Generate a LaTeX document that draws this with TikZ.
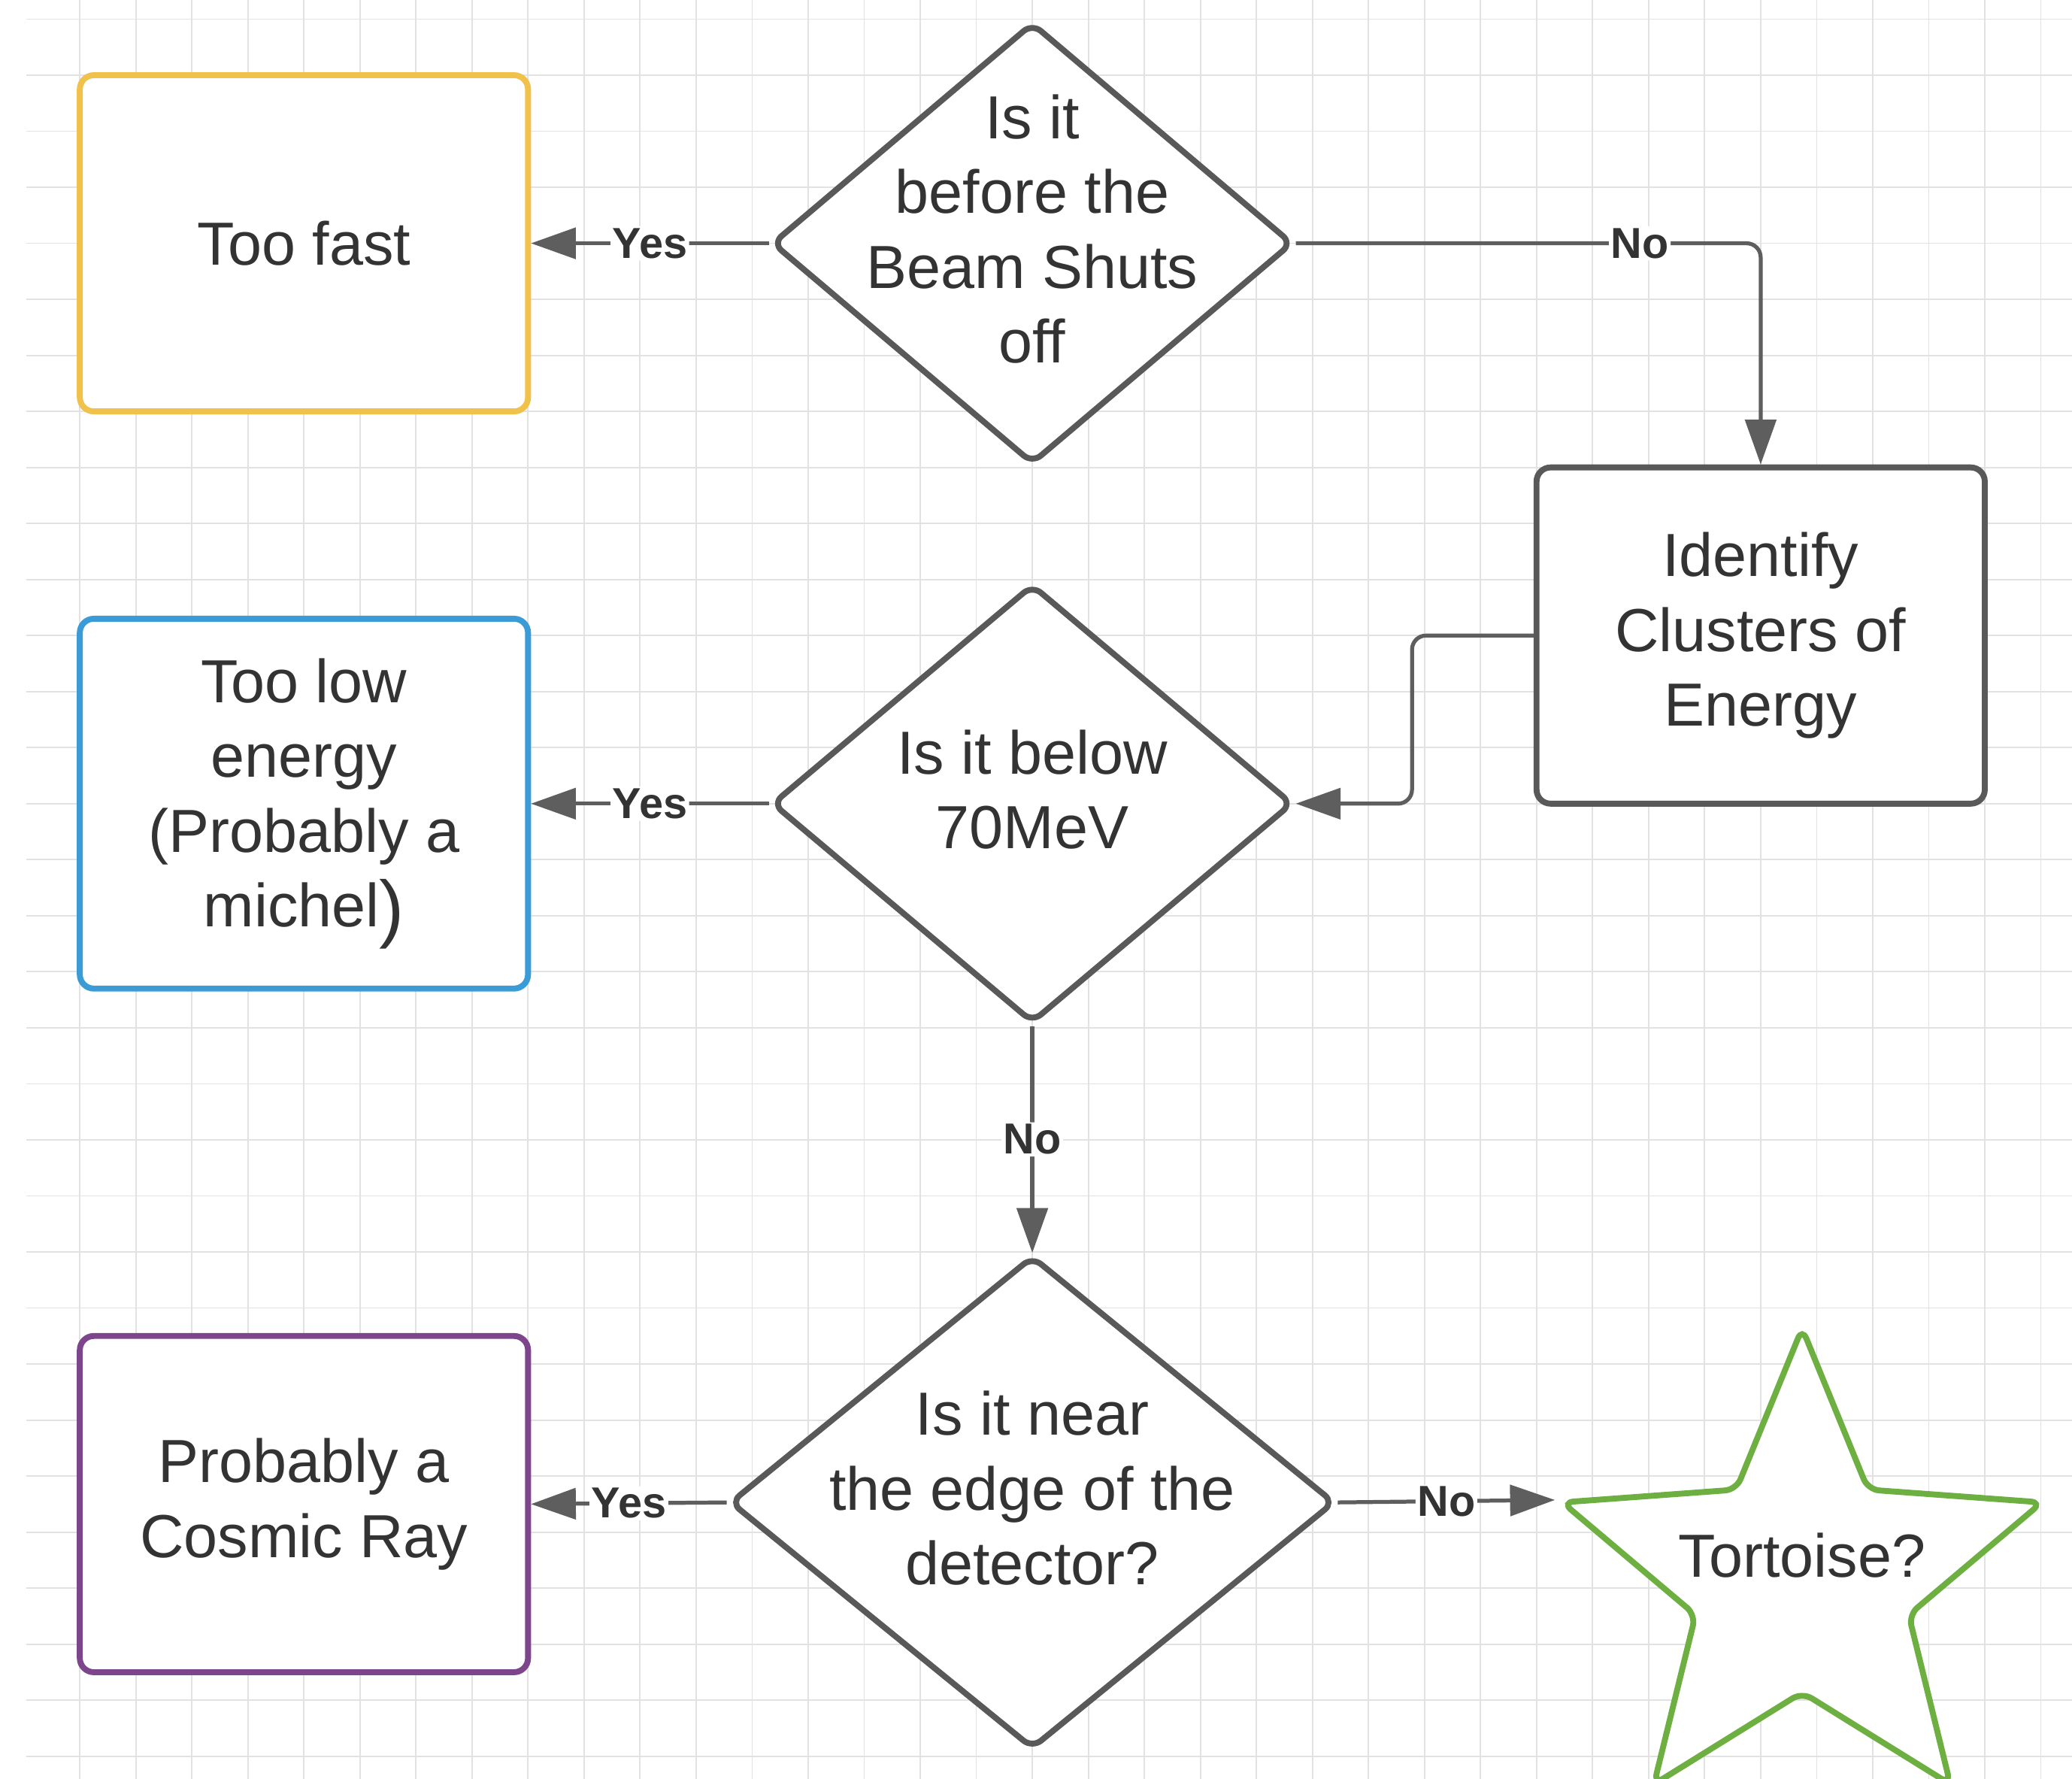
\documentclass[tikz,border=0pt]{standalone}
\usepackage{fontspec}
\setmainfont{Liberation Sans}
\usetikzlibrary{arrows.meta, shapes.geometric, calc}

\definecolor{linegray}{HTML}{5E5E5E}
\definecolor{shapegray}{HTML}{595959}
\definecolor{txtgray}{HTML}{333333}
\definecolor{gridgray}{HTML}{E2E2E2}
\definecolor{fastyellow}{HTML}{F1C24B}
\definecolor{lowblue}{HTML}{3A9BD7}
\definecolor{raypurple}{HTML}{7D468C}
\definecolor{stargreen}{HTML}{6EAF41}

\begin{document}
\begin{tikzpicture}[>={Triangle[length=8mm, width=5.5mm]},
   txt/.style={font=\fontsize{30.9}{38}\selectfont, text=txtgray, align=center},
   box/.style={txt, rectangle, rounded corners=2.5mm, draw, line width=3pt, fill=white, minimum width=8cm, minimum height=6cm},
   decision/.style={txt, diamond, draw=shapegray, line width=3pt, fill=white, rounded corners=2mm, inner sep=-1.5cm, text depth=5.2mm},
   flow/.style={->, draw=linegray, line width=2pt, rounded corners=2.5mm},
   lbl/.style={font=\fontsize{22}{26}\selectfont\bfseries, text=txtgray, fill=white, inner sep=1pt},
   gridline/.style={gridgray, line width=0.7pt}]
\useasboundingbox (-1.4245,0.342) rectangle (35.557,-31.40);
\fill[white] (-1.4245,0.342) rectangle (35.557,-31.40);
\foreach \x in {0,...,35} \draw[gridline] (\x,0.342) -- (\x,-31.40);
\foreach \y in {0,...,31} \draw[gridline] (-0.95,-\y) -- (35.557,-\y);

\node[box, draw=fastyellow] (toofast) at (4,-4) {Too fast};
\node[decision, minimum width=9.3cm, minimum height=7.88cm] (beam) at (17,-4) {Is it\\before the\\Beam Shuts\\off};
\node[box, draw=shapegray] (identify) at (30,-11) {Identify\\Clusters of\\Energy};
\node[box, draw=lowblue, minimum height=6.6cm] (toolow) at (4,-14) {Too low\\energy\\(Probably a\\michel\raisebox{-1.2mm}{\fontsize{38}{38}\selectfont )}};
\node[decision, minimum width=9.3cm, minimum height=7.83cm] (below) at (17,-14) {Is it below\\70MeV};
\node[decision, minimum width=10.8cm, minimum height=8.8cm] (near) at (17,-26.47) {Is it near\\the edge of the\\detector?};
\node[box, draw=raypurple] (cosmic) at (4,-26.5) {Probably a\\Cosmic Ray};
\node[star, star points=5, star point ratio=2.25, minimum size=9cm, draw=stargreen, line width=3pt, fill=white, rounded corners=2mm, inner sep=0pt,
   label={[txt, yshift=4.4mm]center:Tortoise?}] (tortoise) at (30.74,-27.86) {};

\draw[flow] (beam.west) -- node[lbl]{Yes} (toofast.east);
\draw[flow] (beam.east) -| node[lbl, pos=0.37]{No} (identify.north);
\draw[flow] (identify.west) -- ++(-2.17,0) |- (below.east);
\draw[flow] (below.west) -- node[lbl]{Yes} (toolow.east);
\draw[flow] (below.south) -- node[lbl]{No} (near.north);
\draw[flow] (near.west) -- node[lbl]{Yes} (cosmic.east);
\draw[flow] (near.east) -- node[lbl]{No} (tortoise.outer point 2);
\end{tikzpicture}
\end{document}
